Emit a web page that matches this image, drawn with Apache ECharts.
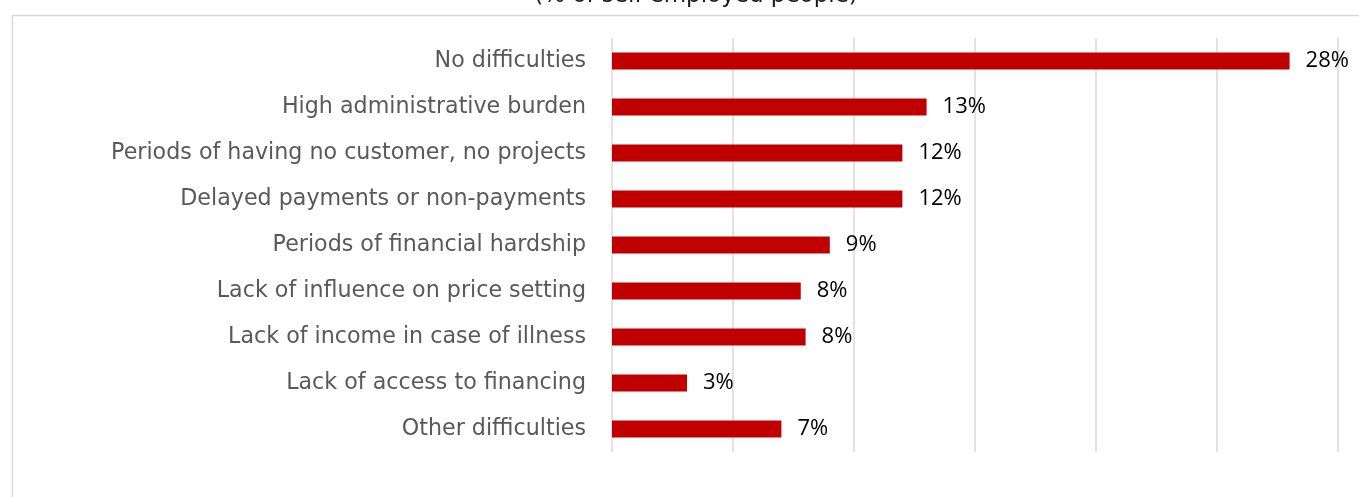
<!DOCTYPE html>
<html><head><meta charset="utf-8">
<script src="https://cdn.jsdelivr.net/npm/echarts@6/dist/echarts.min.js"></script>
<style>html,body{margin:0;padding:0;background:#fff}#c{width:1359px;height:497px}</style>
</head><body><div id="c"></div>
<script>
var categories = ["No difficulties","High administrative burden","Periods of having no customer, no projects","Delayed payments or non-payments","Periods of financial hardship","Lack of influence on price setting","Lack of income in case of illness","Lack of access to financing","Other difficulties"];
var values = [28, 13, 12, 12, 9, 7.8, 8, 3.1, 7];
var valueLabels = ["28%","13%","12%","12%","9%","8%","8%","3%","7%"];
var titleText = "(% of self-employed people)";

var chart = echarts.init(document.getElementById('c'), null, {renderer:'canvas'});
chart.setOption({
  animation:false,
  title:{text:titleText,left:691,textAlign:'center',top:-20,textStyle:{fontFamily:'DejaVu Sans',fontSize:23,fontWeight:'normal',color:'#1a1a1a'}},
  graphic:[
    {type:'polyline',shape:{points:[[12.5,497],[12.5,15.5],[1359,15.5]]},style:{fill:'none',stroke:'#d9d9d9',lineWidth:1.5},silent:true}
  ],
  grid:{left:612,right:21,top:38,bottom:45},
  xAxis:{type:'value',min:0,max:30,interval:5,axisLabel:{show:false},axisLine:{show:false},axisTick:{show:false},
    splitLine:{show:true,lineStyle:{color:'#d9d9d9',width:1.5}}},
  yAxis:{type:'category',inverse:true,data:categories,axisLine:{show:false},axisTick:{show:false},
    axisLabel:{margin:26,fontFamily:'DejaVu Sans',fontSize:22.2,color:'#595959'}},
  series:[{type:'bar',data:values,barWidth:17,itemStyle:{color:'#c00000'},
    label:{show:true,position:'right',distance:16,fontFamily:'Open Sans',fontSize:22,color:'#000',
      formatter:function(p){return valueLabels[p.dataIndex];}}}]
});
</script></body></html>
